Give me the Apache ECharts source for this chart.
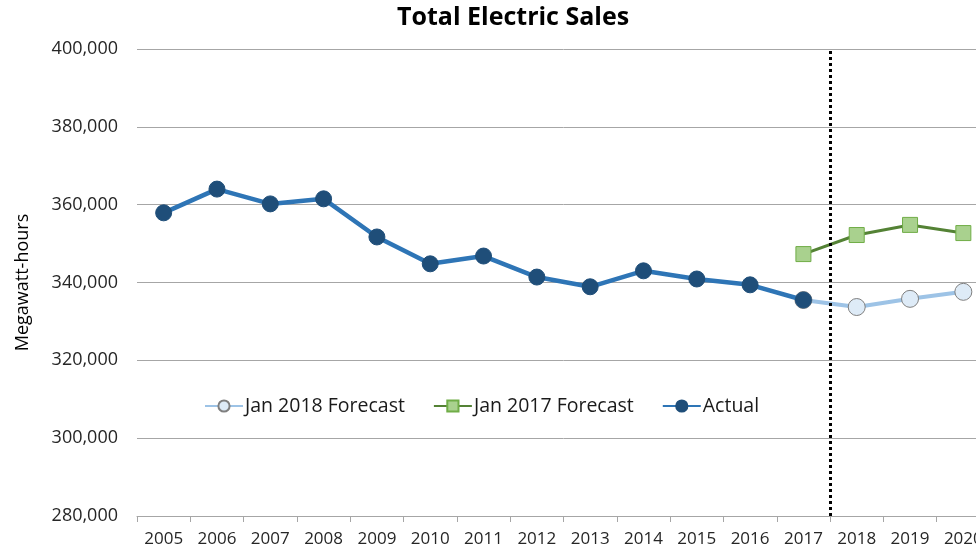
<!DOCTYPE html>
<html>
<head>
<meta charset="utf-8">
<script src="https://cdn.jsdelivr.net/npm/echarts@6/dist/echarts.min.js"></script>
<style>
  html, body { margin: 0; padding: 0; background: #fff; overflow: hidden; }
  #chart { width: 990px; height: 549px; }
</style>
</head>
<body>
<div id="chart"></div>
<script>
var years = ['2005', '2006', '2007', '2008', '2009', '2010', '2011', '2012',
             '2013', '2014', '2015', '2016', '2017', '2018', '2019', '2020'];
var actual = [357900, 364000, 360200, 361500, 351700, 344800, 346800, 341400,
              338900, 343000, 340900, 339400, 335500, null, null, null];
var forecast2018 = [null, null, null, null, null, null, null, null,
                    null, null, null, null, 335500, 333700, 335800, 337600];
var forecast2017 = [null, null, null, null, null, null, null, null,
                    null, null, null, null, 347300, 352200, 354800, 352700];
// forecast boundary sits between 2017 and 2018
var boundary = 13;

var chart = echarts.init(document.getElementById('chart'));
var font = '"Open Sans", "Noto Sans", sans-serif';

var option = {
    animation: false,
    title: {
        text: 'Total Electric Sales',
        left: 392,
        top: 0,
        textStyle: { fontFamily: font, fontSize: 25, fontWeight: 'bold', color: '#000' }
    },
    legend: {
        left: 199,
        top: 391,
        itemGap: 28,
        itemWidth: 38,
        itemHeight: 14,
        textStyle: { fontFamily: font, fontSize: 19.5, color: '#1a1a1a', padding: [0, 0, 0, -3] },
        data: ['Jan 2018 Forecast', 'Jan 2017 Forecast', 'Actual']
    },
    grid: {
        left: 137,
        top: 49,
        bottom: 33,
        right: 0
    },
    xAxis: [{
        type: 'category',
        data: years,
        boundaryGap: true,
        axisLine: { lineStyle: { color: '#a6a6a6', width: 1 } },
        axisTick: { show: true, length: 6, lineStyle: { color: '#a6a6a6' } },
        axisLabel: { fontFamily: font, fontSize: 17, color: '#262626', margin: 15 }
    }, {
        type: 'value',
        min: 0,
        max: years.length,
        show: false
    }],
    yAxis: {
        type: 'value',
        min: 280000,
        max: 400000,
        interval: 20000,
        name: 'Megawatt-hours',
        nameLocation: 'middle',
        nameGap: 105,
        nameTextStyle: { fontFamily: font, fontSize: 18, color: '#000' },
        axisLine: { show: false },
        axisTick: { show: false },
        splitLine: { lineStyle: { color: '#a6a6a6', width: 1 } },
        axisLabel: {
            fontFamily: font, fontSize: 18, color: '#262626', margin: 19,
            formatter: function (v) { return v.toLocaleString('en-US'); }
        }
    },
    series: [
        {
            name: 'Jan 2018 Forecast',
            type: 'line',
            data: forecast2018,
            symbol: 'circle',
            symbolSize: 17,
            lineStyle: { color: '#9dc3e6', width: 4 },
            itemStyle: { color: '#deebf7', borderColor: '#7f7f7f', borderWidth: 1 },
            z: 2
        },
        {
            name: 'Jan 2017 Forecast',
            type: 'line',
            data: forecast2017,
            symbol: 'rect',
            symbolSize: 15,
            lineStyle: { color: '#548235', width: 3 },
            itemStyle: { color: '#a9d18e', borderColor: '#70ad47', borderWidth: 1 },
            z: 2
        },
        {
            name: 'Actual',
            type: 'line',
            data: actual,
            symbol: 'circle',
            symbolSize: 16,
            lineStyle: { color: '#2e75b6', width: 4.5 },
            itemStyle: { color: '#1f4e79', borderColor: '#1f4e79', borderWidth: 1 },
            z: 3
        },
        {
            name: 'boundary',
            type: 'line',
            xAxisIndex: 1,
            data: [],
            markLine: {
                silent: true,
                symbol: 'none',
                label: { show: false },
                lineStyle: { color: '#000', type: [3, 3], width: 3 },
                data: [{ xAxis: boundary }]
            }
        }
    ]
};
chart.setOption(option);
</script>
</body>
</html>
